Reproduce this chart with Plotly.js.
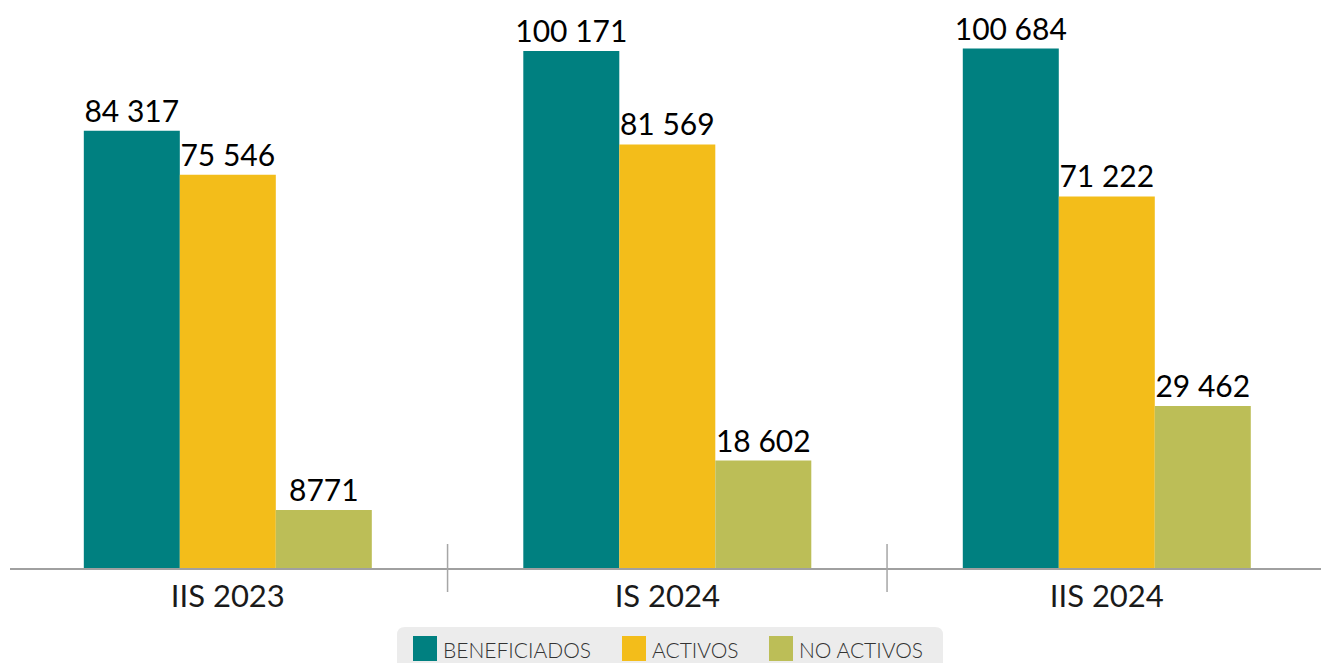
<!DOCTYPE html>
<html>
<head>
<meta charset="utf-8">
<script src="https://cdn.plot.ly/plotly-3.0.1.min.js"></script>
<style>
  html, body { margin: 0; padding: 0; background: #ffffff; }
  #chart { width: 1321px; height: 663px; }
</style>
</head>
<body>
<div id="chart"></div>
<script>
// ---- data ----
const categories = ['IIS 2023', 'IS 2024', 'IIS 2024'];
const seriesNames = ['BENEFICIADOS', 'ACTIVOS', 'NO ACTIVOS'];
const beneficiados = [84317, 100171, 100684];
const activos = [75546, 81569, 71222];
const noActivos = [8771, 18602, 29462];
const seriesColors = ['#008080', '#f3bd1a', '#bcbe57'];

// ---- layout constants ----
const W = 1321, H = 663;
const M = { l: 10, r: 0, t: 0, b: 95 };
const PW = W - M.l - M.r, PH = H - M.t - M.b;
const AXIS_MIN = -2800;   // value axis starts slightly below zero in the original
const AXIS_MAX = 110347;
const FONT = 'Lato, "Open Sans", "DejaVu Sans", sans-serif';

function fmt(v) {
  if (v < 10000) return String(v);
  return String(v).replace(/\B(?=(\d{3})+(?!\d))/g, ' ');
}
const px2x = px => (px - M.l) / PW;
const px2y = py => (H - M.b - py) / PH;

const allSeries = [beneficiados, activos, noActivos];
const traces = allSeries.map((vals, i) => ({
  type: 'bar',
  name: seriesNames[i],
  x: categories,
  y: vals.map(v => v - AXIS_MIN),
  base: AXIS_MIN,
  marker: { color: seriesColors[i], line: { width: 0 } },
  text: vals.map(fmt),
  texttemplate: '%{text}',
  textposition: 'outside',
  constraintext: 'none',
  cliponaxis: false,
  textfont: { family: FONT, size: 30, color: '#000000' },
  hoverinfo: 'skip',
  showlegend: false
}));

// category separators (at category boundaries)
const shapes = [];
for (let i = 0; i < categories.length - 1; i++) {
  shapes.push({
    type: 'line', xref: 'x', yref: 'paper',
    x0: i + 0.5, x1: i + 0.5,
    y0: -24 / PH, y1: 24 / PH,
    line: { color: '#a6a6a6', width: 1.5 }
  });
}

// custom legend (box + swatches + labels)
const bx0 = px2x(397), bx1 = px2x(943), by0 = px2y(670), by1 = px2y(627);
const rx = 8 / PW, ry = 8 / PH;
shapes.push({
  type: 'path', xref: 'paper', yref: 'paper', layer: 'below',
  path: `M ${bx0} ${by0} L ${bx0} ${by1 - ry} Q ${bx0} ${by1} ${bx0 + rx} ${by1} L ${bx1 - rx} ${by1} Q ${bx1} ${by1} ${bx1} ${by1 - ry} L ${bx1} ${by0} Z`,
  fillcolor: '#ececec', line: { width: 0 }
});
const swatchLeft = [413, 622, 769];
const annotations = [];
seriesNames.forEach((name, i) => {
  shapes.push({
    type: 'rect', xref: 'paper', yref: 'paper',
    x0: px2x(swatchLeft[i]), x1: px2x(swatchLeft[i] + 24),
    y0: px2y(661), y1: px2y(636),
    fillcolor: seriesColors[i], line: { width: 0 }
  });
  annotations.push({
    xref: 'paper', yref: 'paper',
    x: px2x(swatchLeft[i] + 28), y: px2y(649),
    xanchor: 'left', yanchor: 'middle',
    text: name, showarrow: false,
    font: { family: FONT, size: 21, color: '#333333', weight: 300 }
  });
});

const layout = {
  width: W, height: H,
  margin: M,
  paper_bgcolor: '#ffffff',
  plot_bgcolor: '#ffffff',
  barmode: 'group',
  bargap: 0.3447,
  bargroupgap: 0,
  showlegend: false,
  xaxis: {
    type: 'category',
    range: [-0.4956, 2.4874],
    showline: true, linecolor: '#a0a0a0', linewidth: 2,
    showgrid: false, zeroline: false,
    ticks: '',
    tickfont: { family: FONT, size: 31, color: '#1a1a1a' },
    fixedrange: true
  },
  yaxis: {
    range: [AXIS_MIN, AXIS_MAX],
    visible: false,
    showgrid: false, zeroline: false,
    fixedrange: true
  },
  shapes: shapes,
  annotations: annotations
};

Plotly.newPlot('chart', traces, layout, { displayModeBar: false, staticPlot: true });
</script>
</body>
</html>
